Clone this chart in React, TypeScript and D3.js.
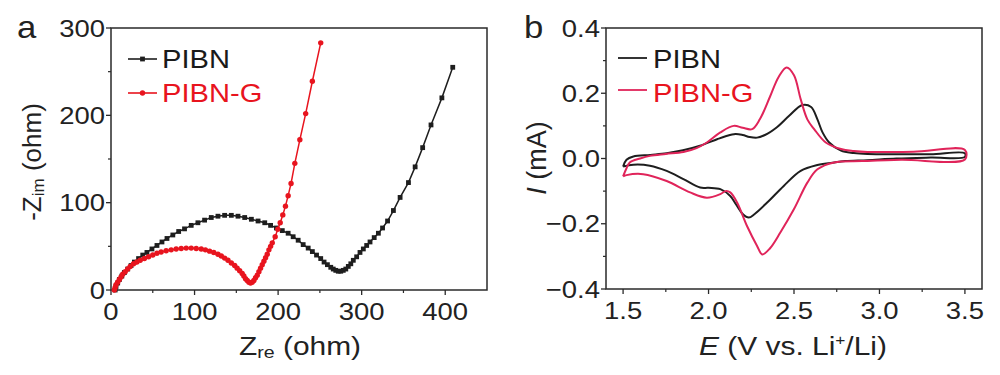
import React from "react";
import * as d3 from "d3";

// ---------- Panel a: Nyquist data (Zre, -Zim in ohm) ----------
const pibnZre = [5,6,8,10,13,16,20,24,28,33,38,43,49,55,61,67,74,81,88,96,104,112,120,128,136,144,152,160,168,176,184,191,198,205,212,218,224,230,236,241,246,251,255,259,263,266,269,272,275,278,281,284,287,290,294,298,302,306,310,315,320,325,331,338,346,356,364,373,383,396,409];
const pibnZim = [0,4,8,12,16,20,24,28,32,36,40,43,47,51,55,59,63,67,70,74,77,80,83,84.5,85.5,85.5,84.5,83,81,79,77,74,71,68,65,61,57,52,48,44,40,36,32,29,26,24,22.5,21.5,21.5,22.5,24,27,30,34,38,43,47,51,55,60,65,71,79,91,106,123,141,163,189,220,255];

const pibngZre = [4,5,6,8,10,12,14,17,20,23,27,31,35,40,45,50,55,60,66,72,78,84,90,96,102,108,113,118,123,128,132,136,140,144,148,151,154,157,159,161,163,165,167,169,171,173,175,177,179,181,183,185,187,189,191,193,196.5,199.6,202.5,205.6,208.8,212,215.5,220,226,233,241,251];
const pibngZim = [0,3,6,9,12,15,18,21,24,27,30,32,34,36,38,40,42,43.5,45,46,47,47.5,48,48,47.5,47,46,44.5,43,41,39,36.5,34,31,28,25,22,19,16,13,11,9,8,9,11,14,17,21,25,29,33,37,41,46,50,54,61,69.5,77,86,96,108,122,145,172,202,239,283];

const aXTicks = [0, 100, 200, 300, 400];
const aXMinor = [50, 150, 250, 350];
const aYTicks = [0, 100, 200, 300];
const aYMinor = [50, 150, 250];

// ---------- Panel b: CV data (E in V, I in mA), closed loops ----------
const pibnE = [1.5,1.52,1.56,1.66,1.755,1.85,1.95,2.05,2.1,2.157,2.2,2.24,2.284,2.33,2.4,2.47,2.549,2.6,2.637,2.667,2.706,2.775,2.85,2.93,3.1,3.3,3.5,3.5,3.3,3.1,2.93,2.8,2.735,2.637,2.539,2.44,2.343,2.27,2.235,2.2,2.16,2.127,2.069,2.0,1.951,1.853,1.755,1.657,1.56,1.5];
const pibnI = [-0.025,-0.004,0.006,0.011,0.016,0.025,0.039,0.059,0.068,0.075,0.072,0.066,0.064,0.072,0.096,0.13,0.164,0.158,0.12,0.08,0.049,0.024,0.017,0.014,0.013,0.013,0.016,0.005,0.003,0.0,-0.005,-0.008,-0.012,-0.02,-0.038,-0.084,-0.135,-0.17,-0.181,-0.17,-0.14,-0.115,-0.094,-0.09,-0.089,-0.063,-0.038,-0.022,-0.019,-0.025];

const pibngE = [1.5,1.52,1.539,1.6,1.657,1.75,1.853,1.93,1.99,2.069,2.147,2.2,2.255,2.3,2.36,2.41,2.457,2.5,2.539,2.578,2.618,2.686,2.775,2.85,2.93,3.2,3.5,3.5,3.127,2.9,2.735,2.637,2.578,2.5,2.42,2.36,2.314,2.284,2.225,2.167,2.127,2.1,2.069,1.99,1.892,1.755,1.618,1.52,1.5];
const pibngI = [-0.055,-0.03,-0.012,0.0,0.008,0.014,0.02,0.032,0.049,0.08,0.1,0.094,0.09,0.12,0.19,0.25,0.279,0.255,0.182,0.12,0.09,0.049,0.029,0.023,0.02,0.021,0.026,-0.003,-0.004,-0.008,-0.012,-0.033,-0.074,-0.155,-0.227,-0.275,-0.294,-0.268,-0.207,-0.135,-0.104,-0.1,-0.109,-0.12,-0.104,-0.069,-0.048,-0.051,-0.055];

const bXTicks = [1.5, 2.0, 2.5, 3.0, 3.5];
const bXMinor = [1.75, 2.25, 2.75, 3.25];
const bYTicks = [-0.4, -0.2, 0.0, 0.2, 0.4];
const bYMinor = [-0.3, -0.1, 0.1, 0.3];

const seriesNames = ["PIBN", "PIBN-G"];

const FONT = "'Liberation Sans', Arial, Helvetica, sans-serif";
const AXIS = "#2a2a2a";
const BLACK = "#1e1e1e";
const RED_A = "#e8141e";
const RED_B = "#e0245a";
const SX = 1.12; // horizontal stretch of the reference's lettering

function T({ x, y, size, anchor = "start", fill = "#222", sx = SX, children }: any) {
  return (
    <text
      transform={`translate(${x},${y}) scale(${sx},1)`}
      textAnchor={anchor}
      fontSize={size}
      fontFamily={FONT}
      fill={fill}
    >
      {children}
    </text>
  );
}

function Frame({ x, y, xt, xm, yt, ym, fmtX, fmtY }: any) {
  const [x0, x1] = x.range();
  const [y0, y1] = y.range(); // y0 bottom, y1 top
  return (
    <g>
      <rect x={x0} y={y1} width={x1 - x0} height={y0 - y1} fill="none" stroke={AXIS} strokeWidth={1.5} />
      {xt.map((t: number) => (
        <g key={"xt" + t}>
          <line x1={x(t)} x2={x(t)} y1={y0} y2={y0 + 5} stroke={AXIS} strokeWidth={1.3} />
          <T x={x(t)} y={y0 + 30} size={24.5} anchor="middle">{fmtX(t)}</T>
        </g>
      ))}
      {xm.map((t: number) => (
        <line key={"xm" + t} x1={x(t)} x2={x(t)} y1={y0} y2={y0 + 3} stroke={AXIS} strokeWidth={1.2} />
      ))}
      {yt.map((t: number) => (
        <g key={"yt" + t}>
          <line x1={x0 - 5} x2={x0} y1={y(t)} y2={y(t)} stroke={AXIS} strokeWidth={1.3} />
          <T x={x0 - 6} y={y(t) + 8.5} size={24.5} anchor="end">{fmtY(t)}</T>
        </g>
      ))}
      {ym.map((t: number) => (
        <line key={"ym" + t} x1={x0 - 3} x2={x0} y1={y(t)} y2={y(t)} stroke={AXIS} strokeWidth={1.2} />
      ))}
    </g>
  );
}

export default function App() {
  // Panel a scales
  const ax = d3.scaleLinear().domain([0, 450]).range([111, 487]);
  const ay = d3.scaleLinear().domain([0, 300]).range([290, 28]);
  // Panel b scales
  const bx = d3.scaleLinear().domain([1.4, 3.6]).range([606, 982]);
  const by = d3.scaleLinear().domain([-0.4, 0.4]).range([289, 28]);

  const pibnA = pibnZre.map((v, i) => [v, pibnZim[i]] as [number, number]);
  const pibngA = pibngZre.map((v, i) => [v, pibngZim[i]] as [number, number]);
  const lineA = d3.line<[number, number]>().x((d) => ax(d[0])).y((d) => ay(d[1]));

  const pibnB = pibnE.map((v, i) => [v, pibnI[i]] as [number, number]);
  const pibngB = pibngE.map((v, i) => [v, pibngI[i]] as [number, number]);
  const lineB = d3
    .line<[number, number]>()
    .x((d) => bx(d[0]))
    .y((d) => by(d[1]))
    .curve(d3.curveCatmullRom.alpha(0.5));

  const fmtInt = (t: number) => String(t);
  const fmt1 = d3.format(".1f");

  return (
    <svg width={1000} height={375} style={{ position: "absolute", left: 0, top: 0, background: "#fff" }}>
      <rect x={0} y={0} width={1000} height={375} fill="#fff" />
      {/* ---------- Panel a ---------- */}
      <T x={17} y={38} size={31}>a</T>
      <Frame x={ax} y={ay} xt={aXTicks} xm={aXMinor} yt={aYTicks} ym={aYMinor} fmtX={fmtInt} fmtY={fmtInt} />
      <path d={lineA(pibnA) || ""} fill="none" stroke={BLACK} strokeWidth={1.5} />
      {pibnA.map((d, i) => (
        <rect key={"pa" + i} x={ax(d[0]) - 2.4} y={ay(d[1]) - 2.4} width={4.8} height={4.8} fill={BLACK} />
      ))}
      <path d={lineA(pibngA) || ""} fill="none" stroke={RED_A} strokeWidth={1.5} />
      {pibngA.map((d, i) => (
        <circle key={"pga" + i} cx={ax(d[0])} cy={ay(d[1])} r={2.7} fill={RED_A} />
      ))}
      {/* legend a */}
      <line x1={128} x2={157} y1={59} y2={59} stroke={BLACK} strokeWidth={1.6} />
      <rect x={140.1} y={56.6} width={4.8} height={4.8} fill={BLACK} />
      <T x={162} y={68} size={26} fill="#1a1a1a">{seriesNames[0]}</T>
      <line x1={128} x2={157} y1={93} y2={93} stroke={RED_A} strokeWidth={1.6} />
      <circle cx={142.5} cy={93} r={2.7} fill={RED_A} />
      <T x={162} y={102} size={26} fill={RED_A}>{seriesNames[1]}</T>
      {/* axis titles a */}
      <T x={300} y={355} size={26} anchor="middle" sx={1.15}>
        Z<tspan fontSize={17} dy={3}>re</tspan>
        <tspan dy={-3}> (ohm)</tspan>
      </T>
      <text transform="translate(41,162) rotate(-90)" textAnchor="middle" fontSize={26} fontFamily={FONT} fill="#222">
        -Z<tspan fontSize={17} dy={3}>im</tspan>
        <tspan dy={-3}> (ohm)</tspan>
      </text>

      {/* ---------- Panel b ---------- */}
      <T x={524} y={38} size={31}>b</T>
      <Frame x={bx} y={by} xt={bXTicks} xm={bXMinor} yt={bYTicks} ym={bYMinor} fmtX={fmt1} fmtY={fmt1} />
      <path d={lineB(pibnB) || ""} fill="none" stroke={BLACK} strokeWidth={2} />
      <path d={lineB(pibngB) || ""} fill="none" stroke={RED_B} strokeWidth={2} />
      {/* legend b */}
      <line x1={618} x2={647} y1={58} y2={58} stroke={BLACK} strokeWidth={1.8} />
      <T x={653} y={68} size={26} fill="#1a1a1a">{seriesNames[0]}</T>
      <line x1={618} x2={647} y1={90} y2={90} stroke={RED_B} strokeWidth={1.8} />
      <T x={653} y={102} size={26} fill={RED_A}>{seriesNames[1]}</T>
      {/* axis titles b */}
      <T x={793} y={355} size={26} anchor="middle" sx={1.15}>
        <tspan fontStyle="italic">E</tspan> (V vs. Li<tspan fontSize={15} dy={-10}>+</tspan>
        <tspan dy={10}>/Li)</tspan>
      </T>
      <text transform="translate(546,158) rotate(-90)" textAnchor="middle" fontSize={27} fontFamily={FONT} fill="#222">
        <tspan fontStyle="italic">I</tspan> (mA)
      </text>
    </svg>
  );
}
